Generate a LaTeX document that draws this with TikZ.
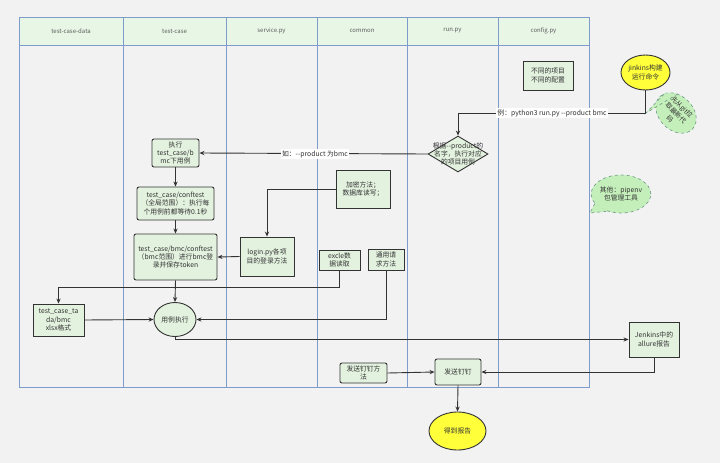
\documentclass[tikz,border=0pt]{standalone}
\usepackage{fontspec}
\setmainfont{Noto Sans CJK SC}
\usetikzlibrary{shapes.geometric,arrows.meta}
\definecolor{bgc}{HTML}{F2F2F2}
\definecolor{lanec}{HTML}{7E9CCB}
\definecolor{headc}{HTML}{E8F6E6}
\definecolor{boxc}{HTML}{E3F2DF}
\definecolor{linec}{HTML}{333333}
\definecolor{txtc}{HTML}{333333}
\definecolor{calc}{HTML}{C4EFBA}
\definecolor{cald}{HTML}{6F9A88}
\definecolor{yel}{HTML}{FFFF3A}
\tikzset{
  lane/.style={draw=lanec, line width=0.7pt},
  head/.style={draw=lanec, fill=headc, line width=0.7pt},
  headtxt/.style={font=\fontsize{6}{7}\selectfont, text=txtc!80},
  box/.style={draw=linec, fill=boxc, line width=0.9pt, align=center, inner sep=0pt,
    font=\fontsize{6.8}{8.3}\selectfont, text=txtc},
  rbox/.style={box, rounded corners=2pt},
  oval/.style={box, ellipse},
  callout/.style={draw=cald, fill=calc, dashed, line width=0.6pt, ellipse, align=center, inner sep=0pt,
    font=\fontsize{6.8}{8.3}\selectfont, text=txtc},
  conn/.style={draw=linec, line width=0.9pt, -{Stealth[length=5pt,width=4.2pt]}},
  lbl/.style={fill=white, inner sep=1pt, font=\fontsize{6.8}{8}\selectfont, text=txtc}
}
\begin{document}
\begin{tikzpicture}[x=1pt,y=-1pt]
\useasboundingbox (0,0) rectangle (720,463);
\fill[bgc] (0,0) rectangle (720,463);
% swimlanes
\foreach \a/\b/\t in {19/123/test-case-data,123/226/test-case,226/317/service.py,317/407/common,407/498/run.py,498/589/config.py}{
  \draw[head] (\a,17) rectangle (\b,45);
  \draw[lane] (\a,45) rectangle (\b,387);
  \node[headtxt] at ({(\a+\b)/2},31) {\t};
}
% nodes
\node[rbox, minimum width=47pt, minimum height=28pt] (exec) at (175.5,153) {执行\\test\_case/b\\mc下用例};
\node[rbox, minimum width=77pt, minimum height=33pt] (conf1) at (175.5,203.5) {test\_case/conftest\\（全局范围）：执行每\\个用例前都等待0.1秒};
\node[rbox, minimum width=83pt, minimum height=46pt] (conf2) at (175.5,257) {test\_case/bmc/conftest\\（bmc范围）进行bmc登\\录并保存token};
\node[box, minimum width=54pt, minimum height=39pt] (login) at (267,256.5) {login.py各项\\目的登录方法};
\node[box, minimum width=54pt, minimum height=38pt] (enc) at (363,189) {加密方法；\\数据库读写；};
\node[box, minimum width=41pt, minimum height=20pt] (excle) at (339.5,260) {excle数\\据读取};
\node[box, minimum width=36pt, minimum height=21pt] (req) at (386,259.5) {通用请\\求方法};
\node[box, draw=linec, fill=boxc, diamond, minimum width=60pt, minimum height=36pt, label={[font=\fontsize{6.8}{8.3}\selectfont, text=txtc, align=center]center:根据-{}-product的\\名字，执行对应\\的项目用例}] (dia) at (458,154) {};
\node[box, minimum width=50pt, minimum height=29pt] (cfg) at (548,75.5) {不同的项目\\不同的配置};
\node[oval, fill=yel, minimum width=49pt, minimum height=35pt] (jk) at (645.5,72.5) {jinkins构建\\运行命令};
\node[box, minimum width=51pt, minimum height=32pt] (data) at (58.5,320) {test\_case\_ta\\da/bmc\\xlsx格式};
\node[oval, minimum width=42pt, minimum height=34pt] (run) at (175,319.5) {用例执行};
\node[box, minimum width=50pt, minimum height=35pt] (jenk) at (654,339.5) {Jenkins中的\\allure报告};
\node[rbox, minimum width=46pt, minimum height=26pt] (ding) at (458,372) {发送钉钉};
\node[rbox, minimum width=47pt, minimum height=20pt] (dingm) at (363.5,373) {发送钉钉方\\法};
\node[oval, fill=yel, minimum width=57pt, minimum height=38pt] (rep) at (457.5,431) {得到报告};
% callouts
\node[callout, minimum width=52pt, minimum height=38pt] (pip) at (621,194) {其他：pipenv\\包管理工具};
\coordinate (piptip) at (590,213);
\fill[calc] (pip.200) -- (piptip) -- (pip.232) -- cycle;
\draw[cald, dashed, line width=0.6pt] (pip.200) -- (piptip) -- (pip.232);
\node[callout, rotate=-45, minimum width=46pt, minimum height=34pt, font=\fontsize{6.5}{8.6}\selectfont] (git) at (676,113) {先从git拉\\取最新代\\码};
\coordinate (gittip) at (646,113);
\fill[calc] (git.130) -- (gittip) -- (git.165) -- cycle;
\draw[cald, dashed, line width=0.6pt] (git.130) -- (gittip) -- (git.165);
% connectors
\coordinate (c1) at (645.5,113);
\coordinate (c2) at (458,113);
\draw[conn] (jk.south) -- (c1) -- (c2) -- (dia.north);
\node[lbl] at (552,113) {例：python3 run.py -{}-product bmc};
\draw[conn] (dia.west) -- (exec.east);
\node[lbl] at (315,154) {如：-{}-product 为bmc};
\draw[conn] (exec.south) -- (conf1.north);
\draw[conn] (conf1.south) -- (conf2.north);
\coordinate (e1) at (login.north |- enc.west);
\draw[conn] (enc.west) -- (e1) -- (login.north);
\draw[conn] (login.west) -- (conf2.east);
\draw[conn] (conf2.south) -- (run.north);
\coordinate (x1) at (339.5,287);
\coordinate (x2) at (58.5,287);
\draw[conn] (excle.south) -- (x1) -- (x2) -- (data.north);
\coordinate (r1) at (386,319.5);
\draw[conn] (req.south) -- (r1) -- (run.east);
\draw[conn] (data.east) -- (run.west);
\coordinate (j1) at (175,339.5);
\draw[conn] (run.south) -- (j1) -- (jenk.west);
\coordinate (j2) at (654,372);
\draw[conn] (jenk.south) -- (j2) -- (ding.east);
\draw[conn] (dingm.east) -- (ding.west);
\draw[conn] (ding.south) -- (rep.north);
\end{tikzpicture}
\end{document}
